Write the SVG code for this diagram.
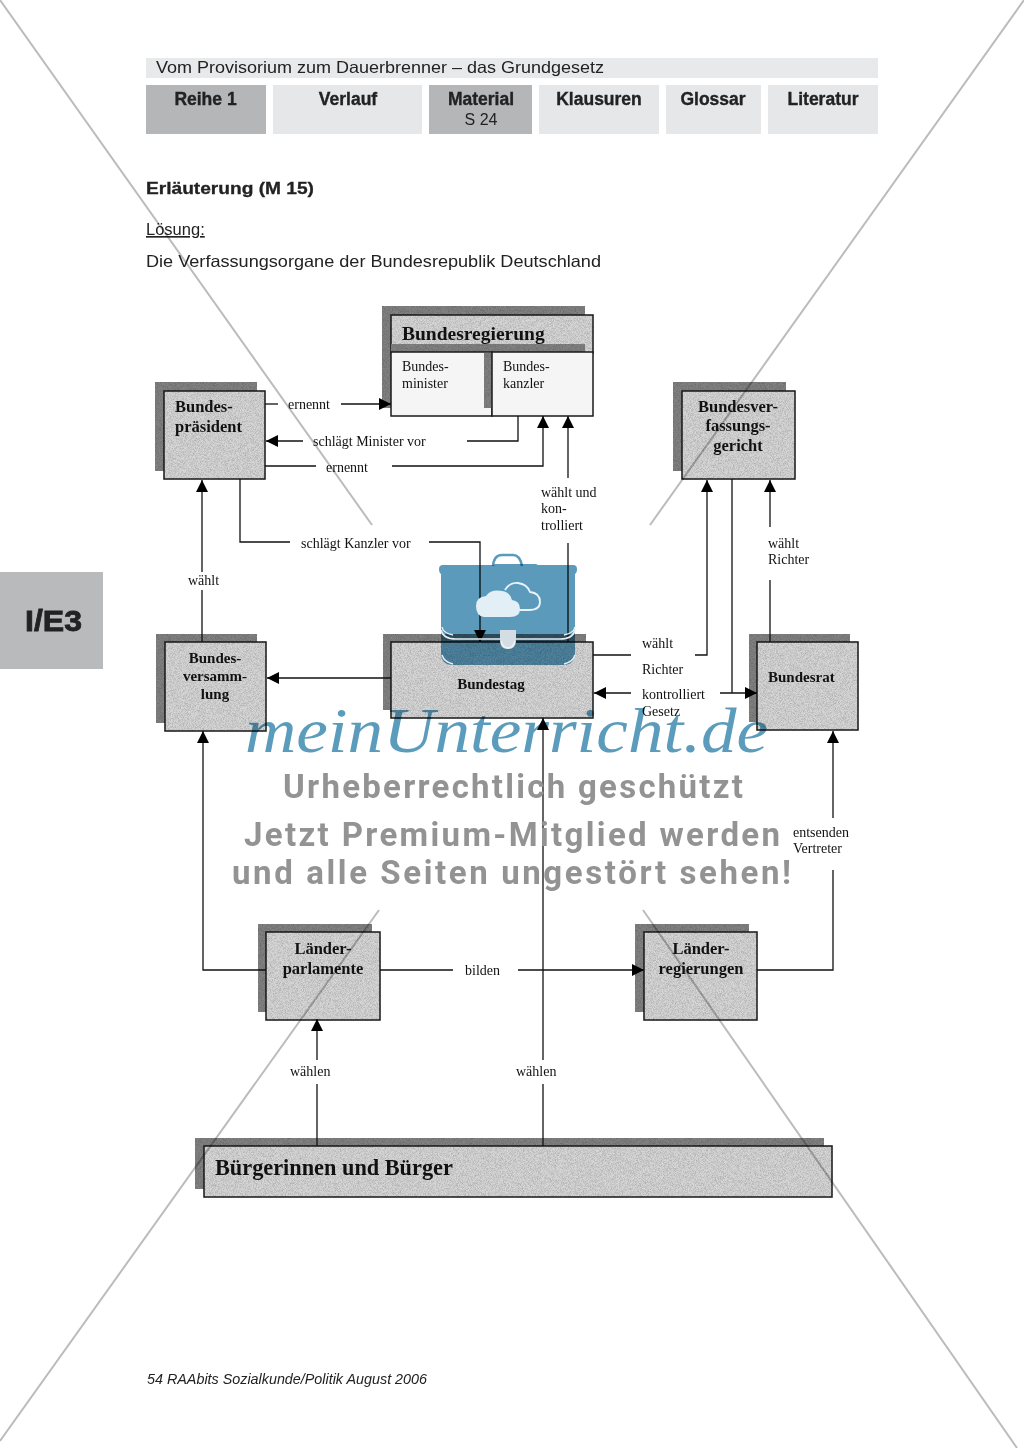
<svg xmlns="http://www.w3.org/2000/svg" width="1024" height="1448" viewBox="0 0 1024 1448">
<style>
.h{font-family:"Liberation Sans",Arial,sans-serif;fill:#222}
.hb{font-family:"Liberation Sans",Arial,sans-serif;font-weight:700;fill:#222;stroke:#222;stroke-width:.35;font-size:17.5px;text-anchor:middle}
.l{font-family:"Liberation Serif","Times New Roman",serif;font-size:14px;fill:#111}
.b{font-family:"Liberation Serif","Times New Roman",serif;font-size:16.5px;font-weight:700;fill:#111}
.b15{font-size:15px}
.c{text-anchor:middle}
.sh{fill:#828282;filter:url(#n)}
.bx{fill:#d6d6d6;stroke:#1a1a1a;stroke-width:1.5;filter:url(#n)}
.wb{fill:#f5f5f5;stroke:#1a1a1a;stroke-width:1.5}
.cn{fill:none;stroke:#111;stroke-width:1.3}
.dg{fill:none;stroke:#bcbcbc;stroke-width:2;mix-blend-mode:multiply}
.wm{font-family:"Roboto","Liberation Sans",sans-serif;font-weight:700;font-size:33px;fill:#939393}
.blue{fill:#5b9abb;mix-blend-mode:multiply}
</style>
<defs>
<marker id="a" markerUnits="userSpaceOnUse" markerWidth="13" markerHeight="13" refX="12" refY="6" orient="auto"><path d="M0 0L12 6L0 12Z" fill="#000"/></marker>
<filter id="n" x="-5%" y="-5%" width="110%" height="110%" color-interpolation-filters="sRGB"><feTurbulence type="fractalNoise" baseFrequency="1.4" numOctaves="1" seed="3"/><feColorMatrix values="0 0 0 0 0 0 0 0 0 0 0 0 0 0 0 0.45 0 0 0 -0.17"/><feComposite in2="SourceAlpha" operator="in"/><feMerge><feMergeNode in="SourceGraphic"/><feMergeNode/></feMerge></filter>
</defs>
<rect width="1024" height="1448" fill="#fff"/>
<g id="header">
<rect x="146" y="58" width="732" height="20" fill="#e8e9ea"/>
<text class="h" x="156" y="73" font-size="16.5" textLength="448" lengthAdjust="spacingAndGlyphs">Vom Provisorium zum Dauerbrenner – das Grundgesetz</text>
<rect x="146" y="85" width="120" height="49" fill="#b5b6b8"/>
<rect x="273" y="85" width="149" height="49" fill="#e6e7e8"/>
<rect x="429" y="85" width="103" height="49" fill="#b5b6b8"/>
<rect x="539" y="85" width="120" height="49" fill="#e6e7e8"/>
<rect x="666" y="85" width="95" height="49" fill="#e6e7e8"/>
<rect x="768" y="85" width="110" height="49" fill="#e6e7e8"/>
<text class="hb" x="205.500" y="105">Reihe 1</text>
<text class="hb" x="348" y="105">Verlauf</text>
<text class="hb" x="481" y="105">Material</text>
<text class="h c" x="481" y="125" font-size="16">S 24</text>
<text class="hb" x="599" y="105">Klausuren</text>
<text class="hb" x="713" y="105">Glossar</text>
<text class="hb" x="823" y="105">Literatur</text>
<text class="h" x="146" y="194" font-size="17" font-weight="700" stroke="#222" stroke-width=".3" textLength="168" lengthAdjust="spacingAndGlyphs">Erläuterung (M 15)</text>
<text class="h" x="146" y="235" font-size="16.5" text-decoration="underline">Lösung:</text>
<text class="h" x="146" y="267" font-size="16.5" textLength="455" lengthAdjust="spacingAndGlyphs">Die Verfassungsorgane der Bundesrepublik Deutschland</text>
</g>
<g id="tab-ie3">
<rect x="0" y="572" width="103" height="97" fill="#b9babc"/>
<text x="25" y="631" font-family="Liberation Sans,Arial,sans-serif" font-weight="700" font-size="30" fill="#222" stroke="#222" stroke-width=".8" textLength="57" lengthAdjust="spacingAndGlyphs">I/E3</text>
</g>
<g id="bundesregierung">
<rect class="sh" x="382" y="306" width="203" height="102"/>
<rect class="bx" x="391" y="315" width="202" height="38"/>
<rect class="sh" x="391" y="344" width="194" height="9"/>
<text x="402" y="340" font-family="Liberation Serif,serif" font-weight="700" font-size="19.500" fill="#111">Bundesregierung</text>
</g>
<g id="bundesminister">
<rect class="wb" x="391" y="352" width="101" height="64"/>
<rect class="sh" x="484" y="353" width="8" height="55"/>
<text class="l" x="402" y="371">Bundes-</text><text class="l" x="402" y="388">minister</text>
</g>
<g id="bundeskanzler">
<rect class="wb" x="492" y="352" width="101" height="64"/>
<text class="l" x="503" y="371">Bundes-</text><text class="l" x="503" y="388">kanzler</text>
</g>
<g id="bundespraesident">
<rect class="sh" x="155" y="382" width="102" height="89"/>
<rect class="bx" x="164" y="391" width="101" height="88"/>
<text class="b" x="175" y="412">Bundes-</text><text class="b" x="175" y="432">präsident</text>
</g>
<g id="bundesverfassungsgericht">
<rect class="sh" x="673" y="382" width="113" height="89"/>
<rect class="bx" x="682" y="391" width="113" height="88"/>
<text class="b c" x="738" y="412">Bundesver-</text><text class="b c" x="738" y="431">fassungs-</text><text class="b c" x="738" y="451">gericht</text>
</g>
<g id="bundesversammlung">
<rect class="sh" x="156" y="634" width="101" height="89"/>
<rect class="bx" x="165" y="642" width="101" height="89"/>
<text class="b b15 c" x="215" y="663">Bundes-</text><text class="b b15 c" x="215" y="681">versamm-</text><text class="b b15 c" x="215" y="699">lung</text>
</g>
<g id="bundestag">
<rect class="sh" x="383" y="634" width="203" height="76"/>
<rect class="bx" x="391" y="642" width="202" height="76"/>
<text class="b b15 c" x="491" y="689">Bundestag</text>
</g>
<g id="bundesrat">
<rect class="sh" x="749" y="634" width="101" height="88"/>
<rect class="bx" x="757" y="642" width="101" height="88"/>
<text class="b b15" x="768" y="682">Bundesrat</text>
</g>
<g id="laenderparlamente">
<rect class="sh" x="258" y="924" width="114" height="88"/>
<rect class="bx" x="266" y="932" width="114" height="88"/>
<text class="b c" x="323" y="954">Länder-</text><text class="b c" x="323" y="974">parlamente</text>
</g>
<g id="laenderregierungen">
<rect class="sh" x="635" y="924" width="114" height="88"/>
<rect class="bx" x="644" y="932" width="113" height="88"/>
<text class="b c" x="701" y="954">Länder-</text><text class="b c" x="701" y="974">regierungen</text>
</g>
<g id="buerger">
<rect class="sh" x="195" y="1138" width="629" height="51"/>
<rect class="bx" x="204" y="1146" width="628" height="51"/>
<text x="215" y="1175" font-family="Liberation Serif,serif" font-weight="700" font-size="22.300" fill="#111">Bürgerinnen und Bürger</text>
</g>
<g id="connectors">
<path class="cn" d="M265 404H278"/>
<path class="cn" d="M341 404H391" marker-end="url(#a)"/>
<path class="cn" d="M518 416V441H467"/>
<path class="cn" d="M303 441H266" marker-end="url(#a)"/>
<path class="cn" d="M265 466H316"/>
<path class="cn" d="M392 466H543V416" marker-end="url(#a)"/>
<path class="cn" d="M568 478V416" marker-end="url(#a)"/>
<path class="cn" d="M568 642V543"/>
<path class="cn" d="M240 479V542H290"/>
<path class="cn" d="M429 542H480V642" marker-end="url(#a)"/>
<path class="cn" d="M202 642V590"/>
<path class="cn" d="M202 572V480" marker-end="url(#a)"/>
<path class="cn" d="M391 678H267" marker-end="url(#a)"/>
<path class="cn" d="M593 655H631"/>
<path class="cn" d="M695 655H707V480" marker-end="url(#a)"/>
<path class="cn" d="M732 479V693"/>
<path class="cn" d="M720 693H757" marker-end="url(#a)"/>
<path class="cn" d="M631 693H594" marker-end="url(#a)"/>
<path class="cn" d="M770 642V580"/>
<path class="cn" d="M770 527V480" marker-end="url(#a)"/>
<path class="cn" d="M757 970H833V870"/>
<path class="cn" d="M833 818V731" marker-end="url(#a)"/>
<path class="cn" d="M266 970H203V731" marker-end="url(#a)"/>
<path class="cn" d="M380 970H453"/>
<path class="cn" d="M518 970H644" marker-end="url(#a)"/>
<path class="cn" d="M317 1146V1084"/>
<path class="cn" d="M317 1060V1019" marker-end="url(#a)"/>
<path class="cn" d="M543 1146V1084"/>
<path class="cn" d="M543 1060V718" marker-end="url(#a)"/>
</g>
<g id="connector-labels">
<text class="l" x="288" y="409">ernennt</text>
<text class="l" x="313" y="446">schlägt Minister vor</text>
<text class="l" x="326" y="472">ernennt</text>
<text class="l" x="541" y="497">wählt und</text><text class="l" x="541" y="513">kon-</text><text class="l" x="541" y="530">trolliert</text>
<text class="l" x="301" y="548">schlägt Kanzler vor</text>
<text class="l" x="188" y="585">wählt</text>
<text class="l" x="642" y="648">wählt</text><text class="l" x="642" y="674">Richter</text>
<text class="l" x="642" y="699">kontrolliert</text><text class="l" x="642" y="716">Gesetz</text>
<text class="l" x="768" y="548">wählt</text><text class="l" x="768" y="564">Richter</text>
<text class="l" x="793" y="837">entsenden</text><text class="l" x="793" y="853">Vertreter</text>
<text class="l" x="465" y="975">bilden</text>
<text class="l" x="290" y="1076">wählen</text><text class="l" x="516" y="1076">wählen</text>
</g>
<text id="footer" x="147" y="1384" font-family="Liberation Sans,Arial,sans-serif" font-style="italic" font-size="14" fill="#222" textLength="280" lengthAdjust="spacingAndGlyphs">54 RAAbits Sozialkunde/Politik August 2006</text>
<g id="watermark">
<path class="dg" d="M0 0L372 525M1024 0L650 525M379 910L0 1441M643 910L1017 1448"/>
<path d="M493 566Q494 555 502 555H513Q520 555 522 566" fill="none" stroke="#5b9abb" stroke-width="2.500" style="mix-blend-mode:multiply"/>
<path class="blue" d="M439 569Q439 565 443 565H492Q493 566 495 564H536L538 565H573Q577 565 577 569Q577 573 575 574V653Q575 665 563 665H453Q441 665 441 653V574Q439 573 439 569Z"/>
<path d="M442 627Q443 633 453 635M575 627Q574 633 564 635M441 630Q443 639 456 639H560Q573 639 575 630M442 655Q444 662 453 664M575 655Q573 662 564 664" fill="none" stroke="#e4eff5" stroke-width="1.500"/>
<path d="M500 630H516V640Q516 649 508 649Q500 649 500 640Z" fill="#d3dde3"/>
<path d="M501 641Q503 648 508 648Q513 648 515 641" fill="none" stroke="#eef4f8" stroke-width="1.500"/>
<path d="M505 590Q510 582 518 583Q527 584 530 592Q540 593 540 602Q540 610 529 610H518" fill="none" stroke="#eaf3f8" stroke-width="1.800"/>
<path d="M484 617Q476 616 476 606Q476 597 486 596Q491 589 502 591Q510 592 512 600Q520 601 520 609Q520 617 510 617Z" fill="#e3eff7"/>
<text x="245" y="752" font-family="Liberation Serif,serif" font-style="italic" font-size="64" fill="#5b9cbc" textLength="523" lengthAdjust="spacingAndGlyphs" style="mix-blend-mode:multiply">meinUnterricht.de</text>
<text class="wm" x="283" y="798" textLength="460">Urheberrechtlich geschützt</text>
<text class="wm" x="244" y="846" textLength="536">Jetzt Premium-Mitglied werden</text>
<text class="wm" x="232" y="884" textLength="559">und alle Seiten ungestört sehen!</text>
</g>
</svg>
